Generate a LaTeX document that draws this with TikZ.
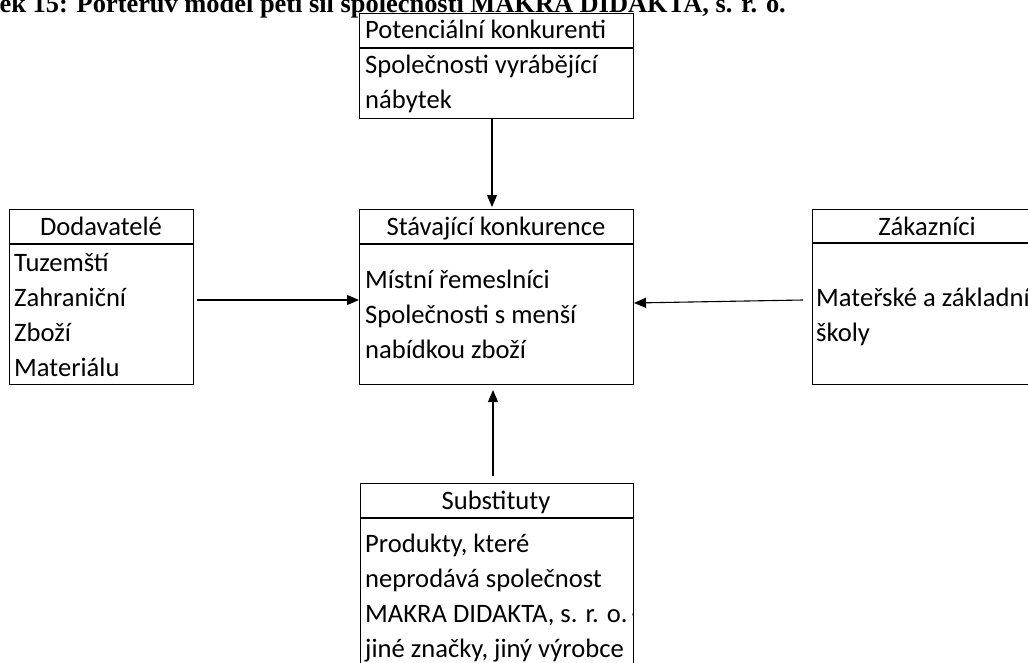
\documentclass[tikz,border=0pt]{standalone}
\usepackage{fontspec}
\setmainfont{Carlito}
\newfontfamily\titlefont{Liberation Serif}
\usetikzlibrary{arrows.meta}
\tikzset{
  boxline/.style={draw=black, line width=1.1pt},
  txt/.style={font=\fontsize{26.6}{34.7}\selectfont, inner sep=0pt},
  hdr/.style={txt, anchor=base},
  hdrl/.style={txt, anchor=base west},
  body/.style={txt, anchor=base west, align=left},
  arr/.style={line width=1.1pt, -{Triangle[width=10pt,length=12pt]}},
  panel/.style={boxline, inner sep=0pt, anchor=north west}
}
\begin{document}
\begin{tikzpicture}[x=1pt, y=-1pt]
\useasboundingbox (0,0) rectangle (1028,662);
\clip (0,0) rectangle (1028,662);
% title (cropped at the top and left, as in the reference)
\node[font=\titlefont\bfseries\fontsize{26.4}{30}\selectfont, anchor=base east, inner sep=0pt] (title) at (786,12) {Obrázek 15: Porterův model pěti sil společnosti MAKRA DIDAKTA, s. r. o.};
% Potenciální konkurenti
\node[panel, minimum width=274pt, minimum height=105pt] (pot) at (359,13) {};
\draw[boxline] (359,48) -- (633,48);
\node[hdrl] (pothdr) at (365,38) {Potenciální konkurenti};
\node[body] (potbody) at (365,108) {Společnosti vyrábějící\\nábytek};
% Stávající konkurence
\node[panel, minimum width=274pt, minimum height=175pt] (stav) at (359,209) {};
\draw[boxline] (359,244) -- (633,244);
\node[hdr] (stavhdr) at (496,235) {Stávající konkurence};
\node[body] (stavbody) at (365,358) {Místní řemeslníci\\Společnosti s menší\\nabídkou zboží};
% Dodavatelé
\node[panel, minimum width=184pt, minimum height=175pt] (dod) at (9,209) {};
\draw[boxline] (9,244) -- (193,244);
\node[hdr] (dodhdr) at (101,235) {Dodavatelé};
\node[body] (dodbody) at (14,376) {Tuzemští\\Zahraniční\\Zboží\\Materiálu};
% Zákazníci
\node[panel, minimum width=230pt, minimum height=175pt] (zak) at (812,209) {};
\draw[boxline] (812,243) -- (1042,243);
\node[hdr] (zakhdr) at (927,235) {Zákazníci};
\node[body] (zakbody) at (816,341) {Mateřské a základní\\školy};
% Substituty
\node[panel, minimum width=273pt, minimum height=230pt] (sub) at (360,483) {};
\draw[boxline] (360,518) -- (633,518);
\node[hdr] (subhdr) at (496,509) {Substituty};
\begin{scope}
\clip (360,518) rectangle (632.5,662);
\node[body] (subbody) at (365,657) {Produkty, které\\neprodává společnost\\MAKRA DIDAKTA, s. r. o.\kern-4pt{} -\\jiné značky, jiný výrobce};
\end{scope}
% connectors
\coordinate (a1s) at (492,118);
\coordinate (a1e) at (492,207);
\coordinate (a2s) at (197,300);
\coordinate (a2e) at (359,300);
\coordinate (a3s) at (803,300);
\coordinate (a3e) at (634,303);
\coordinate (a4s) at (493,476);
\coordinate (a4e) at (493,390);
\draw[arr] (a1s) -- (a1e);
\draw[arr] (a2s) -- (a2e);
\draw[arr] (a3s) -- (a3e);
\draw[arr] (a4s) -- (a4e);
\end{tikzpicture}
\end{document}
